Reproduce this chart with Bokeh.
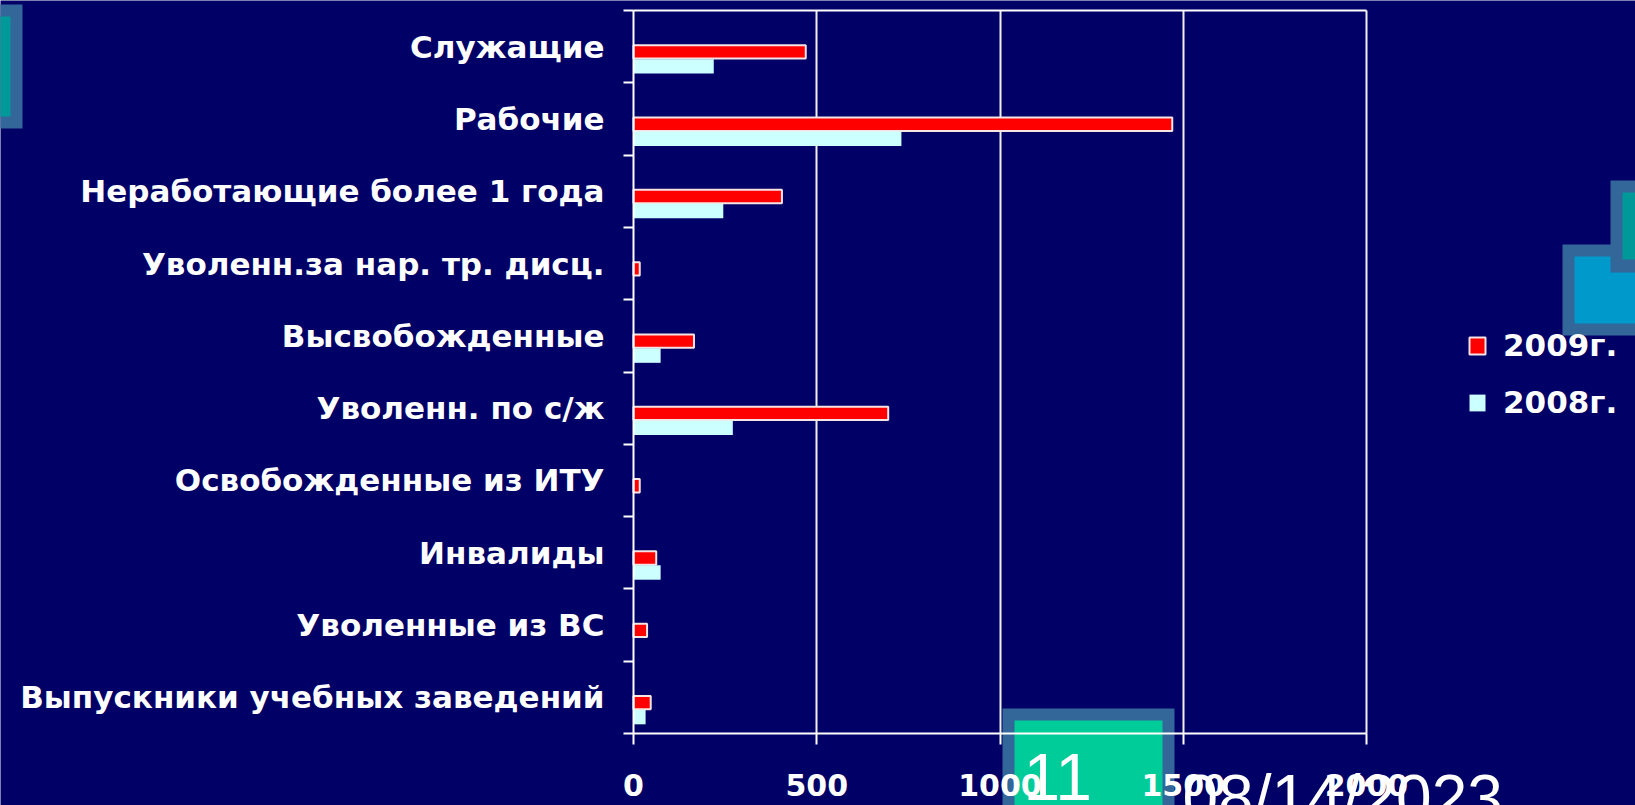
from bokeh.plotting import figure
from bokeh.models import (Range1d, FixedTicker, BoxAnnotation, Label, Legend,
                          LegendItem, ColumnDataSource, LinearAxis)
from bokeh.transform import dodge
from bokeh.embed import file_html
from bokeh.resources import INLINE

# ---- data ----
categories = [
    "Служащие",
    "Рабочие",
    "Неработающие более 1 года",
    "Уволенн.за нар. тр. дисц.",
    "Высвобожденные",
    "Уволенн. по с/ж",
    "Освобожденные из ИТУ",
    "Инвалиды",
    "Уволенные из ВС",
    "Выпускники учебных заведений",
]
values_2009 = [470, 1470, 405, 17, 165, 695, 17, 62, 37, 47]
values_2008 = [219, 731, 245, 0, 74, 271, 0, 74, 0, 33]
series_labels = ["2009г.", "2008г."]
x_ticks = [0, 500, 1000, 1500, 2000]
slide_number = "11"
slide_date = "08/14/2023"

# ---- style ----
NAVY = "#000066"
WHITE = "#FFFFFF"
GRID = "#F0F0F0"
RED = "#FF0000"
CYAN = "#CCFFFF"
STEEL = "#336699"
TEAL = "#009999"
BLUE = "#0099CC"
GREEN = "#00CC99"
BOLD_FONT = "DejaVu Sans"
THIN_FONT = "Liberation Sans"

W, H = 1635, 805
# pixel layout of the chart area inside the slide
PX_X0, PX_X1 = 633, 1366      # value 0 and value 2000
PX_Y0, PX_Y1 = 10, 733        # top and bottom of category area
XMAX = x_ticks[-1]
n = len(categories)

xppu = (PX_X1 - PX_X0) / XMAX
yppu = (PX_Y1 - PX_Y0) / n
x_range = Range1d(-PX_X0 / xppu, XMAX + (W - PX_X1) / xppu)
y_range = Range1d(n - 0.5 + (H - PX_Y1) / yppu, -0.5 - PX_Y0 / yppu)

positions = list(range(n))
src = ColumnDataSource(dict(pos=positions, cat=categories,
                            v2009=values_2009, v2008=values_2008))

p = figure(width=W, height=H, output_backend="svg", toolbar_location=None,
           x_range=x_range, y_range=y_range,
           min_border=0, min_border_left=0, min_border_right=0,
           min_border_top=0, min_border_bottom=0,
           background_fill_color=NAVY, border_fill_color=NAVY,
           outline_line_color=None)

# ---- slide decorations (screen px, origin bottom-left of canvas) ----
def deco(x0, y0, x1, y1, color):
    return BoxAnnotation(left=x0, right=x1, top=H - y0, bottom=H - y1,
                         left_units="screen", right_units="screen",
                         top_units="screen", bottom_units="screen",
                         fill_color=color, fill_alpha=1.0, line_color=None,
                         level="underlay")

for args in [
    (-20, 4, 22, 128, STEEL), (-20, 16, 10, 116, TEAL),
    (1562, 244, 1700, 335, STEEL), (1574, 256, 1700, 323, BLUE),
    (1610, 180, 1700, 272, STEEL), (1622, 192, 1700, 259, TEAL),
    (1002, 708, 1174, 900, STEEL), (1014, 720, 1162, 900, GREEN),
]:
    p.add_layout(deco(*args))

# ---- grid ----
g = p.xgrid[0]
g.ticker = FixedTicker(ticks=x_ticks[1:])
g.grid_line_color = GRID
g.grid_line_width = 2
if "cross_bounds" in g.properties():
    g.cross_bounds = (-0.5, n - 0.5)
else:
    g.visible = False
    p.segment(x0=x_ticks[1:], x1=x_ticks[1:], y0=-0.5, y1=n - 0.5,
              line_color=GRID, line_width=2)
p.ygrid.visible = False

# ---- bars ----
r09 = p.hbar(y=dodge("pos", 0.073), left=0, right="v2009", height=0.185,
             fill_color=RED, line_color="#F6E4E4", line_width=2, source=src)
r08 = p.hbar(y=dodge("pos", 0.273), left=0, right="v2008", height=0.2,
             fill_color=CYAN, line_color=None, source=src)

# ---- x axis (bottom) ----
xa = p.xaxis[0]
xa.ticker = FixedTicker(ticks=x_ticks)
xa.fixed_location = n - 0.5
xa.bounds = (0, XMAX)
xa.axis_line_color = WHITE
xa.axis_line_width = 2
xa.major_tick_line_color = WHITE
xa.major_tick_line_width = 2
xa.major_tick_in = 0
xa.major_tick_out = 11
xa.minor_tick_line_color = None
xa.major_label_text_color = WHITE
xa.major_label_text_font = BOLD_FONT
xa.major_label_text_font_style = "bold"
xa.major_label_text_font_size = "30px"
xa.major_label_standoff = 29

# top border line of the plot area
top = LinearAxis(fixed_location=-0.5, bounds=(0, XMAX),
                 ticker=FixedTicker(ticks=[]),
                 axis_line_color=WHITE, axis_line_width=2,
                 major_tick_line_color=None, minor_tick_line_color=None,
                 major_label_text_font_size="0px")
p.add_layout(top, "above")

# ---- y axis (categories) ----
ya = p.yaxis[0]
ya.ticker = FixedTicker(ticks=positions,
                        minor_ticks=[i - 0.5 for i in range(n + 1)])
ya.major_label_overrides = {i: c for i, c in zip(positions, categories)}
ya.fixed_location = 0
ya.bounds = (-0.5, n - 0.5)
ya.axis_line_color = WHITE
ya.axis_line_width = 2
ya.major_tick_line_color = None
ya.major_tick_in = 0
ya.major_tick_out = 0
ya.minor_tick_line_color = WHITE
ya.minor_tick_line_width = 2
ya.minor_tick_in = 0
ya.minor_tick_out = 10
ya.major_label_text_color = WHITE
ya.major_label_text_font = BOLD_FONT
ya.major_label_text_font_style = "bold"
ya.major_label_text_font_size = "31px"
ya.major_label_standoff = 19

# ---- legend ----
legend = Legend(items=[LegendItem(label=series_labels[0], renderers=[r09]),
                       LegendItem(label=series_labels[1], renderers=[r08])],
                location=(1467, H - 420), orientation="vertical",
                label_text_color=WHITE, label_text_font=BOLD_FONT,
                label_text_font_style="bold", label_text_font_size="31px",
                glyph_width=20, glyph_height=21, label_standoff=16,
                spacing=21, padding=0, margin=0,
                background_fill_alpha=0, border_line_color=None)
p.add_layout(legend)

# ---- slide footer texts ----
p.add_layout(Label(x=1023, y=H - 776, x_units="screen", y_units="screen",
                   text=slide_number, text_font=THIN_FONT, text_font_size="66px",
                   text_color=WHITE, text_baseline="alphabetic"))
p.add_layout(Label(x=1182, y=H - 797, x_units="screen", y_units="screen",
                   text=slide_date, text_font=THIN_FONT, text_font_size="64px",
                   text_color=WHITE, text_baseline="alphabetic"))

open("out.html", "w").write(file_html(p, INLINE))
